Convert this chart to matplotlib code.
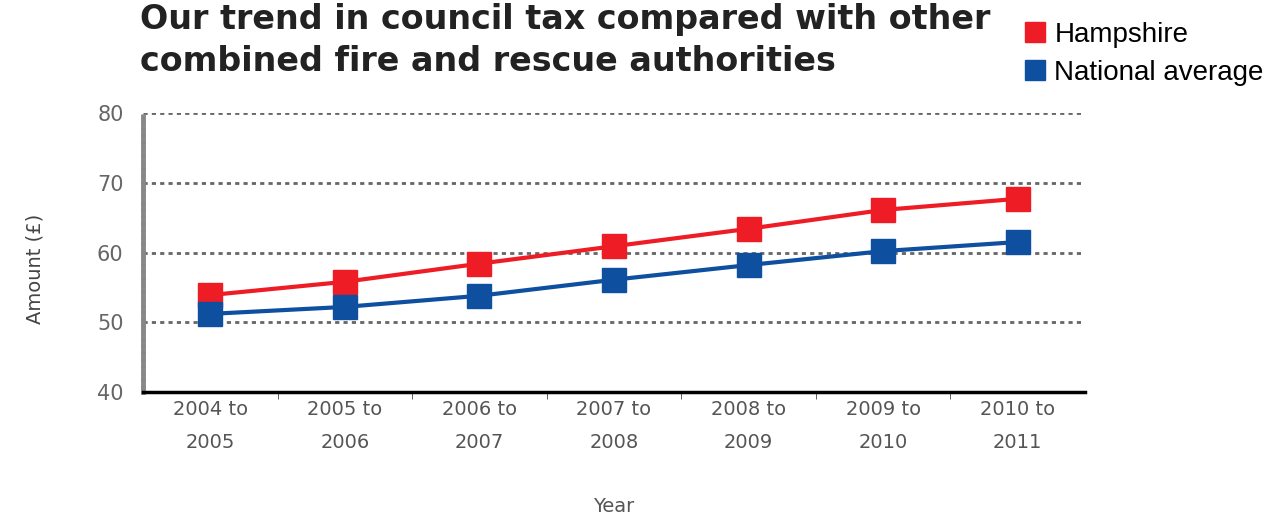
import numpy as np
import matplotlib.pyplot as plt

plt.rcParams['font.family'] = ['DejaVu Sans']

years = ['2004 to\n2005', '2005 to\n2006', '2006 to\n2007', '2007 to\n2008',
         '2008 to\n2009', '2009 to\n2010', '2010 to\n2011']
hampshire = [53.9, 55.8, 58.4, 60.9, 63.4, 66.1, 67.7]
national = [51.2, 52.2, 53.8, 56.1, 58.2, 60.2, 61.5]

red = '#ee1c25'
blue = '#0e4fa0'

fig = plt.figure(figsize=(12.8, 5.15), dpi=100)
ax = fig.add_axes([0.1117, 0.2388, 0.7360, 0.5418])

x = np.arange(len(years))
ax.plot(x, hampshire, color=red, lw=3, marker='s', ms=17, label='Hampshire', zorder=3)
ax.plot(x, national, color=blue, lw=3, marker='s', ms=17, label='National average', zorder=3)

ax.set_xlim(-0.5, 6.5)
ax.set_ylim(40, 80)
ax.set_yticks([40, 50, 60, 70, 80])
ax.set_xticks(x)
ax.set_xticklabels(years, fontsize=14, color='#555555', linespacing=1.9)
ax.set_xticks(np.arange(0.5, 6.5, 1), minor=True)
ax.tick_params(axis='x', which='major', length=0, pad=6)
ax.tick_params(axis='x', which='minor', length=5, color='#444444')
ax.tick_params(axis='y', length=0, labelsize=15, labelcolor='#666666', pad=14)

ax.grid(axis='y', color='#666666', ls=(0, (1.5, 1.5)), lw=2)
for s in ['top', 'right']:
    ax.spines[s].set_visible(False)
ax.spines['left'].set_color('#888888')
ax.spines['left'].set_linestyle((0, (0.7, 0.7)))
ax.spines['left'].set_linewidth(3.5)
ax.spines['bottom'].set_color('black')
ax.spines['bottom'].set_linewidth(2.5)

ax.set_xlabel('Year', fontsize=14, color='#555555')
ax.xaxis.set_label_coords(0.5, -0.375)
ax.set_ylabel('Amount (£)', fontsize=14, color='#444444')
ax.yaxis.set_label_coords(-0.105, 0.44)

fig.text(0.109, 0.995, 'Our trend in council tax compared with other\ncombined fire and rescue authorities',
         fontsize=24, fontweight='bold', color='#222222', va='top', linespacing=1.35)

h1 = plt.Line2D([], [], color=red, marker='s', ls='none', ms=15)
h2 = plt.Line2D([], [], color=blue, marker='s', ls='none', ms=15)
fig.legend([h1, h2], ['Hampshire', 'National average'], loc='upper left',
           bbox_to_anchor=(0.788, 0.985), frameon=False, prop={'family': 'Liberation Sans', 'size': 20},
           handletextpad=0.25, handlelength=0.9, labelspacing=0.45, borderpad=0)

fig.savefig('out.png', dpi=100)
